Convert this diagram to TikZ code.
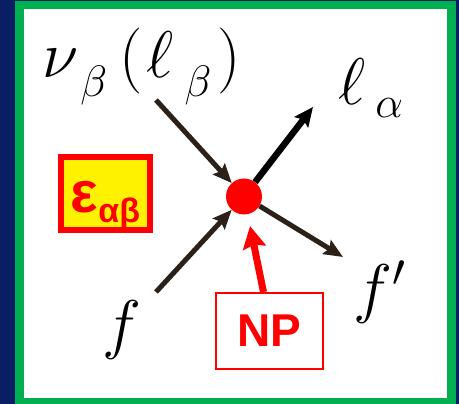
\documentclass[tikz,border=0pt]{standalone}
\usepackage{fix-cm}
\usepackage{fontspec}
\newfontfamily\arialfont{Liberation Sans}
\usetikzlibrary{arrows.meta}
\definecolor{navybg}{RGB}{10,30,100}
\definecolor{framegreen}{RGB}{0,176,80}
\definecolor{lineblk}{RGB}{43,33,25}
\newcommand{\sublow}[2]{\raisebox{-#1}{\fontsize{44}{44}\selectfont$#2$}}
\tikzset{every node/.style={inner sep=0pt},line cap=butt,line join=round,
  ferm/.style={line width=5pt,draw=lineblk,-{Stealth[length=19pt,width=16pt,inset=3pt]}},
  lep/.style={line width=6.5pt,draw=black,-{Stealth[length=19pt,width=17pt,inset=3pt]}},
  nparrow/.style={line width=7pt,draw=red,-{Stealth[length=22pt,width=23pt,inset=3pt]}},
  bigmath/.style={font=\fontsize{66}{66}\selectfont},
  epsbox/.style={draw=red,line width=6pt,fill=yellow,minimum width=89pt,minimum height=73pt,
    text height=42pt,text depth=4pt,text=red,font=\arialfont\bfseries\fontsize{58}{58}\selectfont},
  npbox/.style={draw=red,line width=2pt,fill=white,minimum width=107pt,minimum height=76pt,
    text=red,font=\arialfont\bfseries\fontsize{46}{46}\selectfont}}

\begin{document}
\begin{tikzpicture}[x=1pt,y=-1pt]
  \useasboundingbox (0,0) rectangle (459,404);
  % background and frame
  \fill[navybg] (0,0) rectangle (459,404);
  \draw[framegreen,line width=8.5pt,fill=white] (19.3,5) rectangle (451.5,402);

  % vertex
  \node[circle,fill=red,minimum size=36pt] (vtx) at (244,196.5) {};

  % labels
  \node[bigmath,anchor=base west] (nu) at (42,78)
    {$\nu$\hspace{2pt}\sublow{19pt}{\beta}\hspace{12pt}$($\hspace{4pt}$\ell$\hspace{11pt}\sublow{19pt}{\beta}\hspace{6pt}$)$};
  \node[bigmath,anchor=base west] (la) at (338,105) {$\ell$\hspace{10pt}\sublow{13pt}{\alpha}};
  \node[bigmath] (f) at (122,330) {$f$};
  \node[bigmath] (fp) at (380,292) {$f'$};

  % boxes
  \node[epsbox] (eps) at (105.5,193.5) {ε\raisebox{-10pt}{\fontsize{34}{34}\selectfont αβ}};
  \node[npbox] (np) at (269.5,331) {NP};

  % lines
  \coordinate (nuend) at (156,100);
  \coordinate (fend) at (156,292);
  \coordinate (laend) at (313,107);
  \coordinate (fpend) at (343,257);
  \draw[ferm] (nuend) -- (vtx);
  \draw[ferm] (fend) -- (vtx);
  \draw[lep] (vtx) -- (laend);
  \draw[ferm] (vtx) -- (fpend);
  \draw[nparrow,shorten >=12pt] ([xshift=-6pt]np.north) -- (vtx);
\end{tikzpicture}
\end{document}
